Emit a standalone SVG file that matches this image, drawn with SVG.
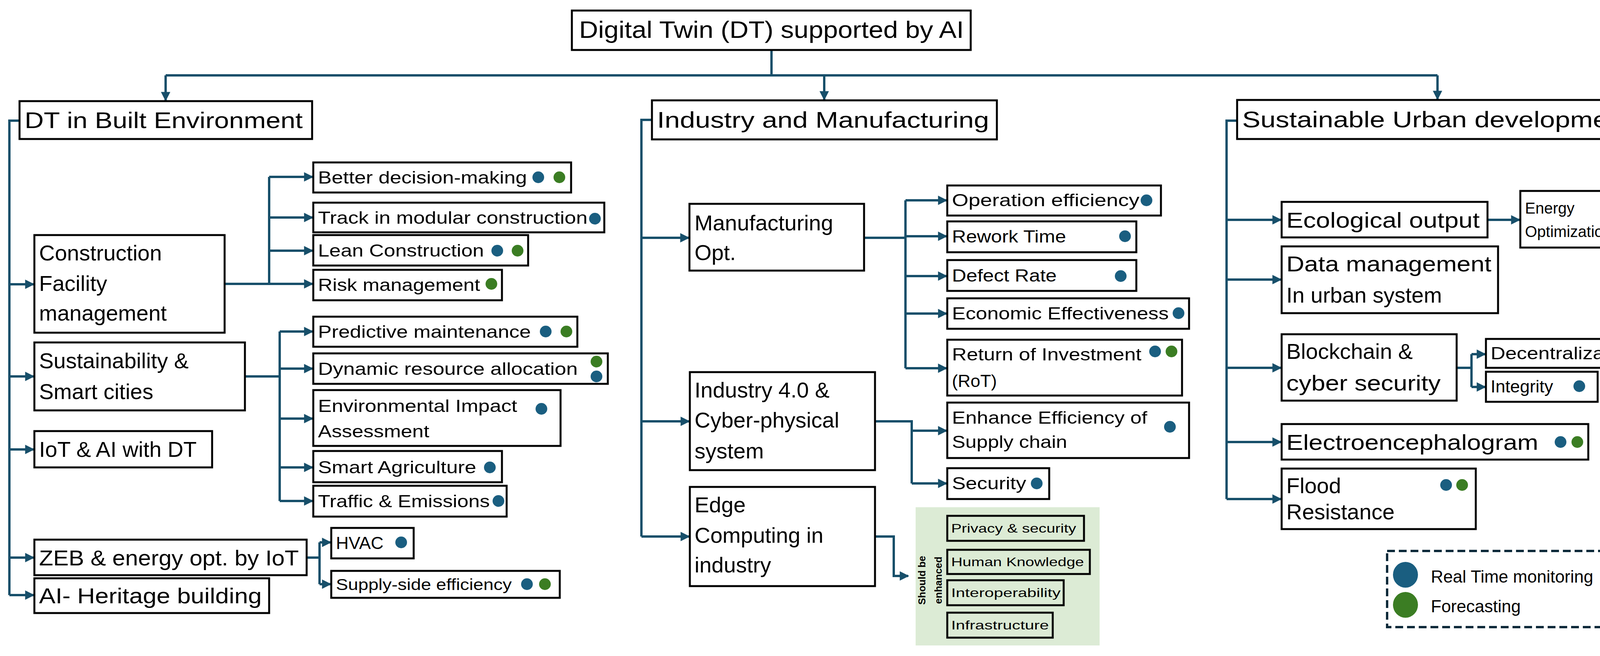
<svg xmlns="http://www.w3.org/2000/svg" width="4283" height="1680" viewBox="0 0 4283 1680">
<defs>
<style>
.b{fill:#fff;stroke:#000;stroke-width:5}
.t{font-family:"Liberation Sans",Arial,sans-serif;fill:#000}
.h{font-size:58px}
.m{font-size:56px}
.l{font-size:45px}
.s{font-size:32px}
.c{fill:none;stroke:#174f6a;stroke-width:6}
.rb{fill:#1a5e80}
.gr{fill:#3b7d23}
</style>
<marker id="a" viewBox="0 0 10 10" refX="9" refY="5" markerWidth="4" markerHeight="4" orient="auto" markerUnits="strokeWidth"><path d="M0,0L10,5L0,10z" fill="#174f6a"/></marker>
</defs>
<rect width="4283" height="1680" fill="#fff"/>
<g id="connectors" marker-end="url(#a)">
<path class="c" d="M1975,128V193" marker-end="none"/>
<path class="c" d="M424,193H3680" marker-end="none"/>
<path class="c" d="M424,193V257"/>
<path class="c" d="M2110,193V255"/>
<path class="c" d="M3680,193V254"/>
<path class="c" d="M50,309H24V1524" marker-end="none"/>
<path class="c" d="M24,728H86"/><path class="c" d="M24,964H86"/><path class="c" d="M24,1151H86"/><path class="c" d="M24,1428H86"/><path class="c" d="M24,1524H86"/>
<path class="c" d="M575,727H689" marker-end="none"/><path class="c" d="M689,453V727" marker-end="none"/>
<path class="c" d="M689,453H800"/><path class="c" d="M689,557H800"/><path class="c" d="M689,642H800"/><path class="c" d="M689,727H800"/>
<path class="c" d="M627,964H716" marker-end="none"/><path class="c" d="M716,849V1283" marker-end="none"/>
<path class="c" d="M716,849H800"/><path class="c" d="M716,944H800"/><path class="c" d="M716,1072H800"/><path class="c" d="M716,1197H800"/><path class="c" d="M716,1283H800"/>
<path class="c" d="M785,1428H818" marker-end="none"/><path class="c" d="M818,1389V1496" marker-end="none"/>
<path class="c" d="M818,1389H846"/><path class="c" d="M818,1496H846"/>
<path class="c" d="M1669,307H1642V1374" marker-end="none"/>
<path class="c" d="M1642,609H1763"/><path class="c" d="M1642,1079H1764"/><path class="c" d="M1642,1374H1764"/>
<path class="c" d="M2212,609H2318" marker-end="none"/><path class="c" d="M2318,513V943" marker-end="none"/>
<path class="c" d="M2318,513H2423"/><path class="c" d="M2318,605H2423"/><path class="c" d="M2318,707H2423"/><path class="c" d="M2318,803H2423"/><path class="c" d="M2318,943H2423"/>
<path class="c" d="M2240,1079H2334V1238" marker-end="none"/>
<path class="c" d="M2334,1103H2423"/><path class="c" d="M2334,1238H2423"/>
<path class="c" d="M2240,1374H2288V1475H2325"/>
<path class="c" d="M3167,309H3140V1278" marker-end="none"/>
<path class="c" d="M3140,563H3279"/><path class="c" d="M3140,716H3279"/><path class="c" d="M3140,942H3279"/><path class="c" d="M3140,1132H3279"/><path class="c" d="M3140,1278H3279"/>
<path class="c" d="M3808,563H3890"/>
<path class="c" d="M3729,942H3767" marker-end="none"/><path class="c" d="M3767,907V991" marker-end="none"/>
<path class="c" d="M3767,907H3802"/><path class="c" d="M3767,991H3802"/>
</g>
<g id="root"><rect class="b" x="1464" y="27" width="1021" height="101"/><text class="t" x="1975" y="97" font-size="62" text-anchor="middle" textLength="985" lengthAdjust="spacingAndGlyphs">Digital Twin (DT) supported by AI</text></g>
<g id="built"><rect class="b" x="50" y="259" width="749" height="97"/><text class="t h" x="63" y="328" textLength="712" lengthAdjust="spacingAndGlyphs">DT in Built Environment</text></g>
<g id="industry"><rect class="b" x="1669" y="257" width="883" height="100"/><text class="t h" x="1682" y="327" textLength="850" lengthAdjust="spacingAndGlyphs">Industry and Manufacturing</text></g>
<g id="urban"><rect class="b" x="3167" y="256" width="1029" height="100"/><text class="t h" x="3180" y="326" textLength="995" lengthAdjust="spacingAndGlyphs">Sustainable Urban development</text></g>

<g id="construction"><rect class="b" x="88" y="602" width="487" height="250"/><text class="t m" x="100"><tspan x="100" y="667">Construction</tspan><tspan x="100" y="745">Facility</tspan><tspan x="100" y="821">management</tspan></text></g>
<g id="sustain"><rect class="b" x="88" y="877" width="539" height="174"/><text class="t m"><tspan x="100" y="943">Sustainability &amp;</tspan><tspan x="100" y="1022">Smart cities</tspan></text></g>
<g id="iot"><rect class="b" x="88" y="1104" width="455" height="93"/><text class="t m" x="100" y="1170">IoT &amp; AI with DT</text></g>
<g id="zeb"><rect class="b" x="88" y="1382" width="697" height="91"/><text class="t m" x="100" y="1448" textLength="665" lengthAdjust="spacingAndGlyphs">ZEB &amp; energy opt. by IoT</text></g>
<g id="heritage"><rect class="b" x="88" y="1481" width="601" height="89"/><text class="t m" x="100" y="1545" textLength="570" lengthAdjust="spacingAndGlyphs">AI- Heritage building</text></g>

<g id="better"><rect class="b" x="802" y="416" width="660" height="77"/><text class="t l" x="814" y="470" textLength="535" lengthAdjust="spacingAndGlyphs">Better decision-making</text><circle class="rb" cx="1378" cy="454" r="15"/><circle class="gr" cx="1432" cy="454" r="15"/></g>
<g id="track"><rect class="b" x="802" y="519" width="745" height="76"/><text class="t l" x="814" y="573" textLength="690" lengthAdjust="spacingAndGlyphs">Track in modular construction</text><circle class="rb" cx="1523" cy="560" r="15"/></g>
<g id="lean"><rect class="b" x="802" y="602" width="550" height="78"/><text class="t l" x="814" y="657" textLength="425" lengthAdjust="spacingAndGlyphs">Lean Construction</text><circle class="rb" cx="1273" cy="642" r="15"/><circle class="gr" cx="1325" cy="642" r="15"/></g>
<g id="risk"><rect class="b" x="802" y="691" width="483" height="78"/><text class="t l" x="814" y="745" textLength="415" lengthAdjust="spacingAndGlyphs">Risk management</text><circle class="gr" cx="1258" cy="727" r="15"/></g>
<g id="predictive"><rect class="b" x="802" y="811" width="676" height="77"/><text class="t l" x="814" y="865" textLength="545" lengthAdjust="spacingAndGlyphs">Predictive maintenance</text><circle class="rb" cx="1397" cy="849" r="15"/><circle class="gr" cx="1450" cy="849" r="15"/></g>
<g id="dynamic"><rect class="b" x="802" y="905" width="754" height="78"/><text class="t l" x="814" y="960" textLength="665" lengthAdjust="spacingAndGlyphs">Dynamic resource allocation</text><circle class="gr" cx="1527" cy="926" r="15"/><circle class="rb" cx="1527" cy="964" r="15"/></g>
<g id="env"><rect class="b" x="802" y="999" width="633" height="143"/><text class="t l"><tspan x="814" y="1055" textLength="510" lengthAdjust="spacingAndGlyphs">Environmental Impact</tspan><tspan x="814" y="1120" textLength="285" lengthAdjust="spacingAndGlyphs">Assessment</tspan></text><circle class="rb" cx="1386" cy="1047" r="15"/></g>
<g id="agri"><rect class="b" x="802" y="1155" width="483" height="80"/><text class="t l" x="814" y="1212" textLength="405" lengthAdjust="spacingAndGlyphs">Smart Agriculture</text><circle class="rb" cx="1254" cy="1197" r="15"/></g>
<g id="traffic"><rect class="b" x="802" y="1244" width="495" height="79"/><text class="t l" x="814" y="1299" textLength="440" lengthAdjust="spacingAndGlyphs">Traffic &amp; Emissions</text><circle class="rb" cx="1276" cy="1283" r="15"/></g>
<g id="hvac"><rect class="b" x="848" y="1352" width="211" height="78"/><text class="t l" x="860" y="1406">HVAC</text><circle class="rb" cx="1027" cy="1389" r="15"/></g>
<g id="supply"><rect class="b" x="848" y="1462" width="585" height="69"/><text class="t" font-size="40" x="860" y="1511" textLength="450" lengthAdjust="spacingAndGlyphs">Supply-side efficiency</text><circle class="rb" cx="1349" cy="1496" r="15"/><circle class="gr" cx="1395" cy="1496" r="15"/></g>

<g id="manuf"><rect class="b" x="1765" y="522" width="447" height="171"/><text class="t m"><tspan x="1778" y="590">Manufacturing</tspan><tspan x="1778" y="666">Opt.</tspan></text></g>
<g id="ind40"><rect class="b" x="1766" y="953" width="474" height="251"/><text class="t m"><tspan x="1778" y="1018">Industry 4.0 &amp;</tspan><tspan x="1778" y="1095">Cyber-physical</tspan><tspan x="1778" y="1174">system</tspan></text></g>
<g id="edge"><rect class="b" x="1766" y="1247" width="474" height="254"/><text class="t m"><tspan x="1778" y="1312">Edge</tspan><tspan x="1778" y="1390">Computing in</tspan><tspan x="1778" y="1466">industry</tspan></text></g>

<g id="operation"><rect class="b" x="2425" y="475" width="547" height="77"/><text class="t l" x="2437" y="528" textLength="480" lengthAdjust="spacingAndGlyphs">Operation efficiency</text><circle class="rb" cx="2935" cy="513" r="15"/></g>
<g id="rework"><rect class="b" x="2425" y="567" width="484" height="79"/><text class="t l" x="2437" y="621" textLength="292" lengthAdjust="spacingAndGlyphs">Rework Time</text><circle class="rb" cx="2880" cy="605" r="15"/></g>
<g id="defect"><rect class="b" x="2425" y="666" width="484" height="79"/><text class="t l" x="2437" y="721" textLength="268" lengthAdjust="spacingAndGlyphs">Defect Rate</text><circle class="rb" cx="2869" cy="707" r="15"/></g>
<g id="economic"><rect class="b" x="2425" y="764" width="619" height="78"/><text class="t l" x="2437" y="818" textLength="555" lengthAdjust="spacingAndGlyphs">Economic Effectiveness</text><circle class="rb" cx="3017" cy="802" r="15"/></g>
<g id="roi"><rect class="b" x="2425" y="870" width="601" height="143"/><text class="t l"><tspan x="2437" y="923" textLength="485" lengthAdjust="spacingAndGlyphs">Return of Investment</tspan><tspan x="2437" y="991">(RoT)</tspan></text><circle class="rb" cx="2957" cy="900" r="15"/><circle class="gr" cx="2999" cy="900" r="15"/></g>
<g id="enhance"><rect class="b" x="2425" y="1031" width="619" height="142"/><text class="t l"><tspan x="2437" y="1085" textLength="500" lengthAdjust="spacingAndGlyphs">Enhance Efficiency of</tspan><tspan x="2437" y="1147" textLength="295" lengthAdjust="spacingAndGlyphs">Supply chain</tspan></text><circle class="rb" cx="2995" cy="1093" r="15"/></g>
<g id="security"><rect class="b" x="2425" y="1199" width="261" height="79"/><text class="t l" x="2437" y="1253" textLength="190" lengthAdjust="spacingAndGlyphs">Security</text><circle class="rb" cx="2654" cy="1238" r="15"/></g>

<g id="enhanced"><rect x="2344" y="1299" width="471" height="354" fill="#dcebd5"/>
<text class="t" font-size="26" font-weight="bold" transform="translate(2369,1486) rotate(-90)" text-anchor="middle">Should be</text>
<text class="t" font-size="26" font-weight="bold" transform="translate(2411,1486) rotate(-90)" text-anchor="middle">enhanced</text>
<rect x="2425" y="1321" width="350" height="64" fill="#dcebd5" stroke="#000" stroke-width="5"/><text class="t s" x="2435" y="1364" textLength="320" lengthAdjust="spacingAndGlyphs">Privacy &amp; security</text>
<rect x="2425" y="1408" width="365" height="62" fill="#dcebd5" stroke="#000" stroke-width="5"/><text class="t s" x="2435" y="1450" textLength="340" lengthAdjust="spacingAndGlyphs">Human Knowledge</text>
<rect x="2425" y="1486" width="298" height="64" fill="#dcebd5" stroke="#000" stroke-width="5"/><text class="t s" x="2435" y="1529" textLength="280" lengthAdjust="spacingAndGlyphs">Interoperability</text>
<rect x="2425" y="1569" width="270" height="64" fill="#dcebd5" stroke="#000" stroke-width="5"/><text class="t s" x="2435" y="1612" textLength="250" lengthAdjust="spacingAndGlyphs">Infrastructure</text>
</g>

<g id="ecological"><rect class="b" x="3281" y="517" width="527" height="91"/><text class="t m" x="3293" y="583" textLength="495" lengthAdjust="spacingAndGlyphs">Ecological output</text></g>
<g id="energy"><rect class="b" x="3892" y="489" width="359" height="145"/><text class="t" font-size="40"><tspan x="3904" y="547">Energy</tspan><tspan x="3904" y="607">Optimization</tspan></text><circle class="rb" cx="4223" cy="537" r="15"/></g>
<g id="data"><rect class="b" x="3281" y="631" width="554" height="171"/><text class="t m"><tspan x="3293" y="695" textLength="525" lengthAdjust="spacingAndGlyphs">Data management</tspan><tspan x="3293" y="775">In urban system</tspan></text></g>
<g id="blockchain"><rect class="b" x="3281" y="856" width="448" height="170"/><text class="t m"><tspan x="3293" y="919">Blockchain &amp;</tspan><tspan x="3293" y="1000" textLength="395" lengthAdjust="spacingAndGlyphs">cyber security</tspan></text></g>
<g id="decentral"><rect class="b" x="3804" y="868" width="447" height="74"/><text class="t l" x="3816" y="920" textLength="375" lengthAdjust="spacingAndGlyphs">Decentralization</text><circle class="rb" cx="4220" cy="904" r="15"/></g>
<g id="integrity"><rect class="b" x="3804" y="952" width="286" height="77"/><text class="t l" x="3816" y="1005">Integrity</text><circle class="rb" cx="4043" cy="989" r="15"/></g>
<g id="eeg"><rect class="b" x="3281" y="1086" width="785" height="91"/><text class="t m" x="3293" y="1152" textLength="645" lengthAdjust="spacingAndGlyphs">Electroencephalogram</text><circle class="rb" cx="3995" cy="1132" r="15"/><circle class="gr" cx="4038" cy="1132" r="15"/></g>
<g id="flood"><rect class="b" x="3281" y="1200" width="497" height="155"/><text class="t m"><tspan x="3293" y="1263">Flood</tspan><tspan x="3293" y="1330">Resistance</tspan></text><circle class="rb" cx="3702" cy="1242" r="15"/><circle class="gr" cx="3743" cy="1242" r="15"/></g>

<g id="legend"><rect x="3551" y="1411" width="703" height="195" fill="#fff" stroke="#0d2a3a" stroke-width="6" stroke-dasharray="20,10"/>
<ellipse class="rb" cx="3598" cy="1472" rx="32" ry="33"/><ellipse class="gr" cx="3598" cy="1549" rx="32" ry="33"/>
<text class="t" font-size="44" x="3663" y="1492">Real Time monitoring</text>
<text class="t" font-size="44" x="3663" y="1568">Forecasting</text></g>
</svg>
